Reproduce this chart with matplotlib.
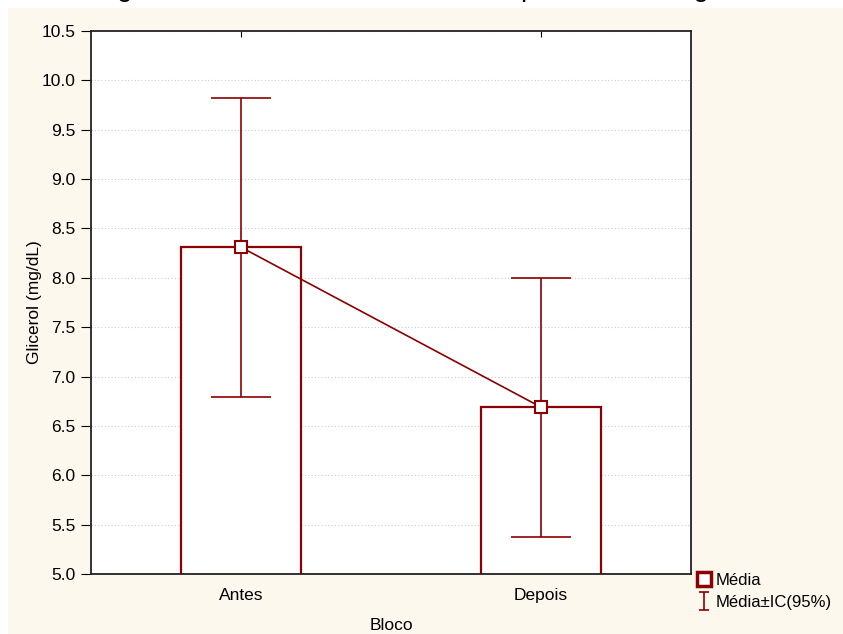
import matplotlib
matplotlib.use("Agg")
import matplotlib.pyplot as plt
from matplotlib.patches import Rectangle
from matplotlib.lines import Line2D
from matplotlib.path import Path
import numpy as np

plt.rcParams['font.family'] = ['Liberation Sans', 'DejaVu Sans']

# data
categories = ["Antes", "Depois"]
means = [8.31, 6.69]
ci_low = [6.79, 5.37]
ci_high = [9.82, 8.00]
y_ticks = [5.0, 5.5, 6.0, 6.5, 7.0, 7.5, 8.0, 8.5, 9.0, 9.5, 10.0, 10.5]

red = "#8b0000"
cream = "#fdf8ee"
fs = 12.5

fig = plt.figure(figsize=(8.43, 6.34), dpi=100, facecolor=cream)

# white strips of the screenshot (top and left)
fig.patches.append(Rectangle((0, 626 / 634), 1, 1, transform=fig.transFigure,
                             facecolor="white", edgecolor="none", zorder=0))
fig.patches.append(Rectangle((0, 0), 8 / 843, 1, transform=fig.transFigure,
                             facecolor="white", edgecolor="none", zorder=0))

# cut-off text line at the top of the screenshot
fig.text(0.5, 1.018, "o gráficos das médias dos blocos que estão na figura",
         ha="center", va="center", fontsize=20, zorder=5)

ax = fig.add_axes([91 / 843, 60 / 634, 600 / 843, 543 / 634])
ax.set_facecolor("white")

x = np.arange(len(categories))
means_a = np.array(means)
err = [means_a - np.array(ci_low), np.array(ci_high) - means_a]

ax.bar(x, means, width=0.4, bottom=0, facecolor="white", edgecolor=red,
       linewidth=1.6, zorder=2)
ax.errorbar(x, means, yerr=err, fmt="none", ecolor=red, elinewidth=1.2,
            capsize=21.5, capthick=1.2, zorder=3)
ax.plot(x, means, color=red, linewidth=1.2, marker="s", markersize=8,
        markerfacecolor="white", markeredgecolor=red, markeredgewidth=1.5, zorder=4)

ax.set_xlim(-0.5, 1.5)
ax.set_ylim(5.0, 10.5)
ax.set_yticks(y_ticks)
ax.set_yticklabels([f"{v:.1f}" for v in y_ticks])
ax.set_xticks(x)
ax.set_xticklabels(categories)
ax.tick_params(axis="y", direction="out", length=7, labelsize=fs, pad=4)
ax.tick_params(axis="x", direction="in", length=4, labelsize=fs, pad=10,
               top=True)
ax.grid(axis="y", linestyle=(0, (1, 2)), color="#cccccc", linewidth=0.8, zorder=0)
ax.set_axisbelow(True)
for s in ax.spines.values():
    s.set_linewidth(1.3)
    s.set_color("#222222")

ax.set_xlabel("Bloco", fontsize=fs, labelpad=11)
ax.set_ylabel("Glicerol (mg/dL)", fontsize=fs, labelpad=0)

# legend outside, lower right
ibar = Path([(-0.5, -1), (0.5, -1), (0, -1), (0, 1), (-0.5, 1), (0.5, 1)],
            [Path.MOVETO, Path.LINETO, Path.MOVETO, Path.LINETO, Path.MOVETO, Path.LINETO])
handles = [
    Line2D([], [], linestyle="none", marker="s", markersize=10, markerfacecolor="white",
           markeredgecolor=red, markeredgewidth=2.5),
    Line2D([], [], linestyle="none", marker=ibar, markersize=13, markerfacecolor="none",
           markeredgecolor=red, markeredgewidth=1.2),
]
fig.legend(handles, ["Média", "Média±IC(95%)"], loc="upper left",
           bbox_to_anchor=(686 / 843, 73 / 634), frameon=False, fontsize=12,
           handlelength=0.8, handletextpad=0.3, labelspacing=0.45, borderpad=0.2)

fig.savefig("out.png", dpi=100, facecolor=fig.get_facecolor())
